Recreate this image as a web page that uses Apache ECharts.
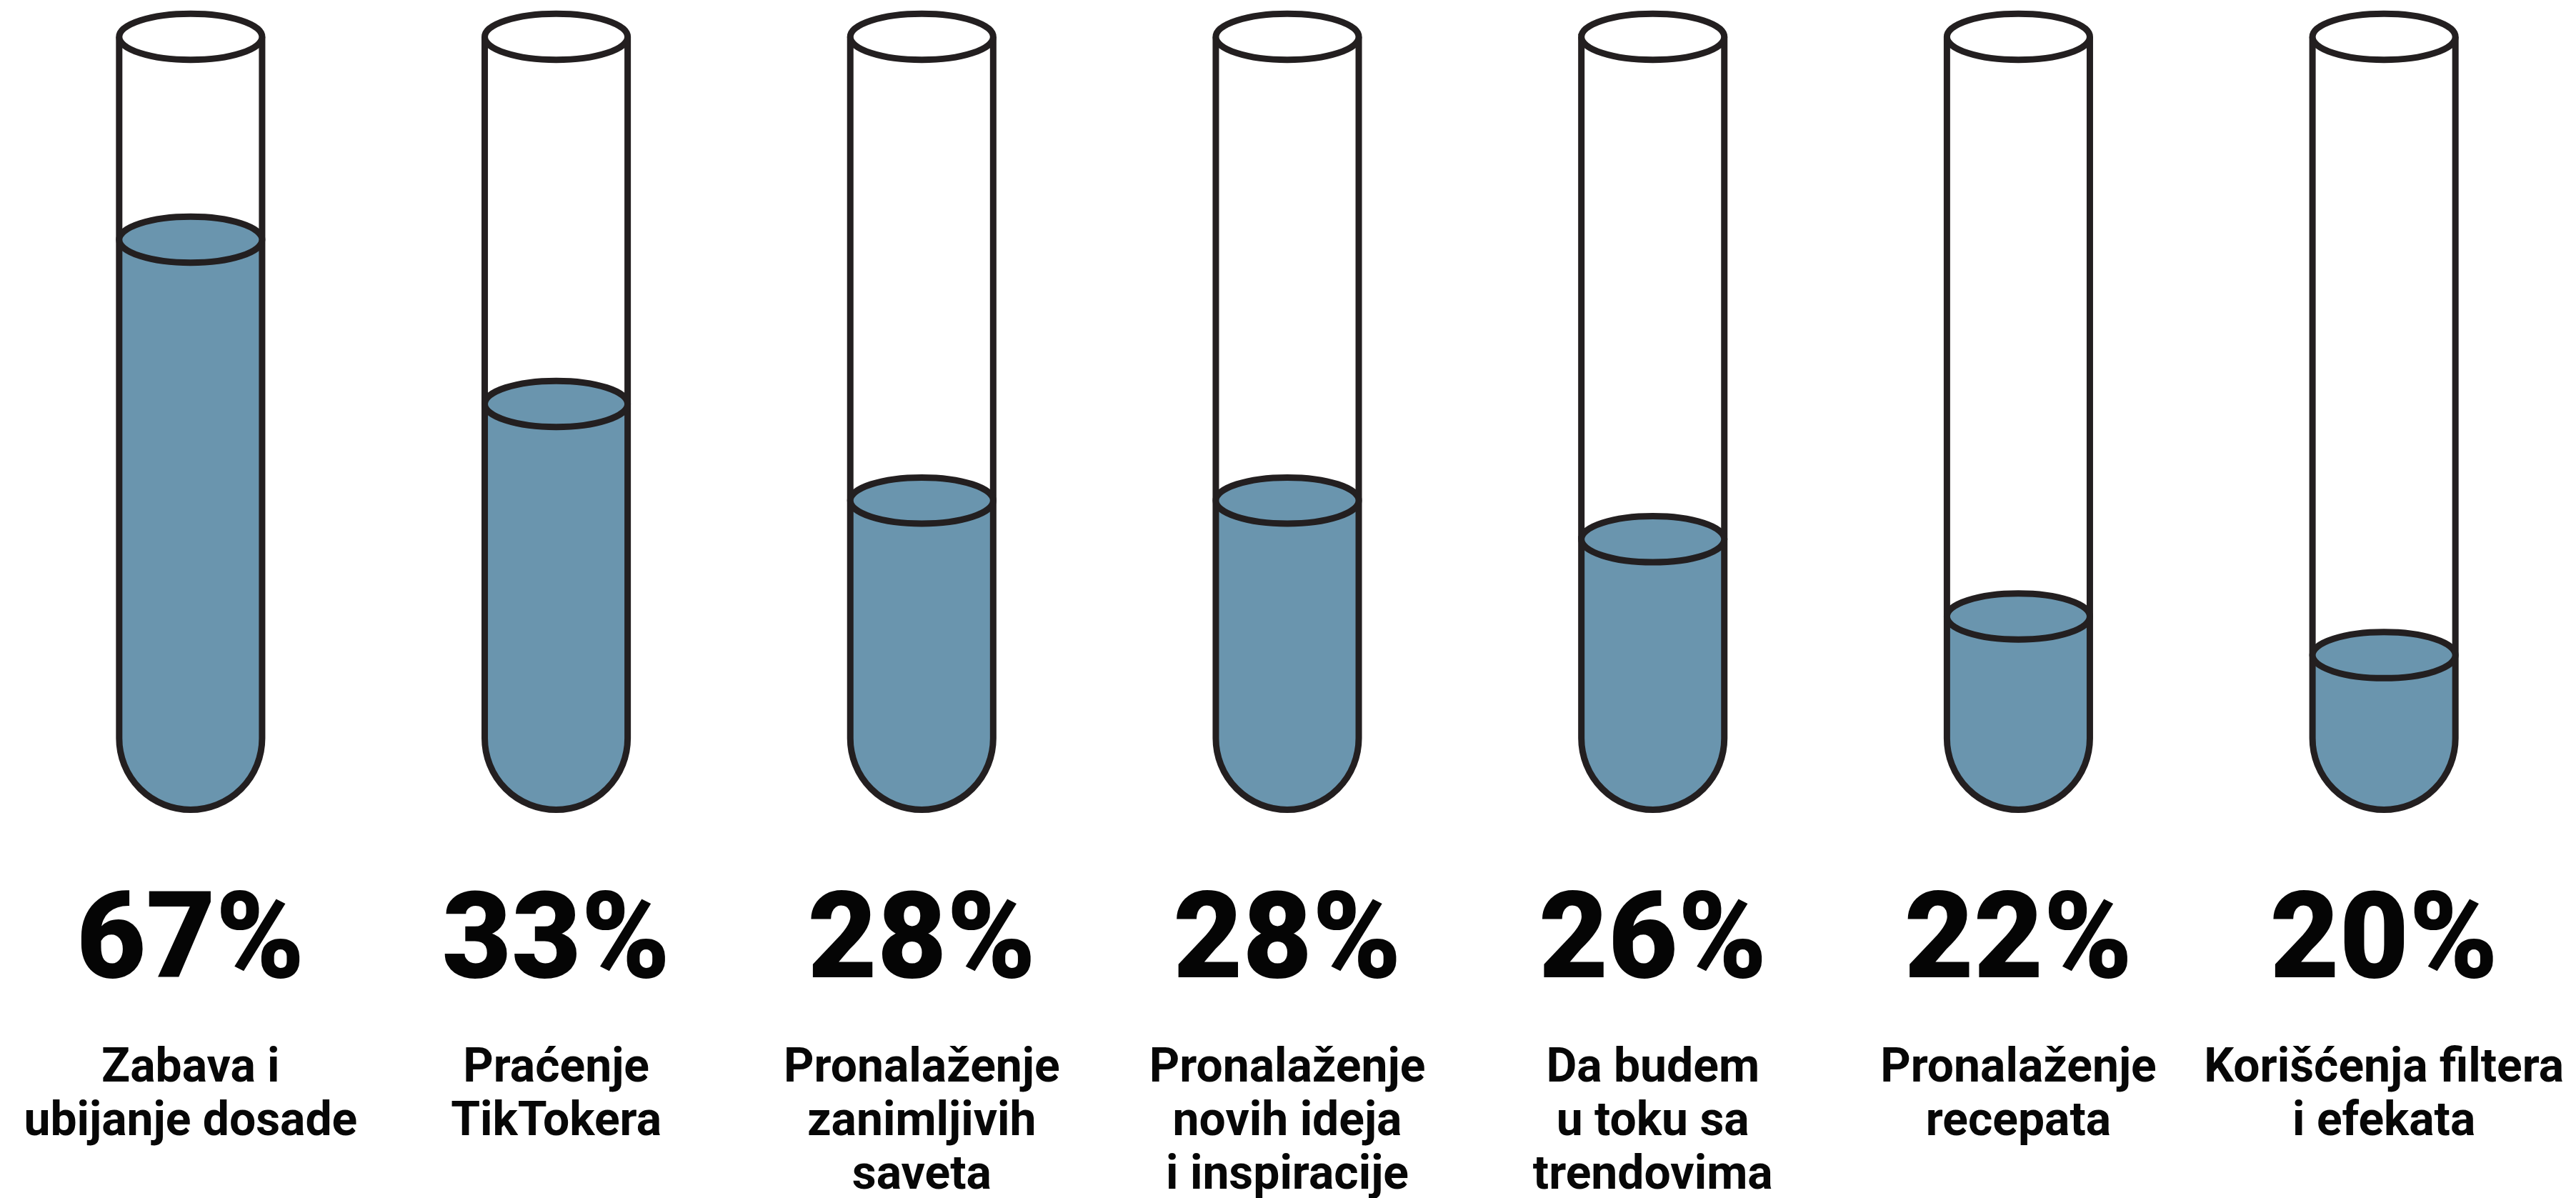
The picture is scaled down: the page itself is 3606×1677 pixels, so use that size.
<!DOCTYPE html>
<html>
<head>
<meta charset="utf-8">
<title>Zašto koriste TikTok</title>
<script src="https://cdn.jsdelivr.net/npm/echarts@6/dist/echarts.min.js"></script>
<style>
  html, body { margin: 0; padding: 0; background: #ffffff; }
  #chart { width: 3606px; height: 1677px; }
</style>
</head>
<body>
<div id="chart"></div>
<script>
// Reasons for using TikTok, share of respondents (%)
const categories = [
  'Zabava i\nubijanje dosade',
  'Praćenje\nTikTokera',
  'Pronalaženje\nzanimljivih\nsaveta',
  'Pronalaženje\nnovih ideja\ni inspiracije',
  'Da budem\nu toku sa\ntrendovima',
  'Pronalaženje\nrecepata',
  'Korišćenja filtera\ni efekata'
];
const shares = [67, 33, 28, 28, 26, 22, 20];

// Value range spanned by each tube; the long stretch between the
// largest value and the rest is folded away with an axis break.
const Y_MIN = 12;
const Y_MAX = 77.5;
const valueBreaks = [{ start: 38, end: 63.5, gap: 0 }];

const LIQUID = '#6A95AE';
const INK = '#231F20';
const LINE_W = 9;

function renderTube(params, api) {
  const i = api.value(0);
  const v = api.value(1);
  const top = api.coord([i, Y_MAX]);
  const bottom = api.coord([i, Y_MIN]);
  const surface = api.coord([i, v]);
  const band = api.size([1, 0])[0];

  const cx = top[0];
  const w = band * 0.1955;        // half width of the tube
  const ry = w * 0.3225;          // vertical radius of the rim ellipses
  const yTop = top[1];
  const yBot = bottom[1];
  const yArc = yBot - w;          // where the round bottom starts
  const ys = surface[1];

  const L = cx - w, R = cx + w;
  const ellipse = (cy) =>
    `M ${L} ${cy} A ${w} ${ry} 0 1 0 ${R} ${cy} A ${w} ${ry} 0 1 0 ${L} ${cy} Z`;

  return {
    type: 'group',
    children: [
      { // liquid column
        type: 'path',
        shape: { pathData: `M ${L} ${ys} L ${L} ${yArc} A ${w} ${w} 0 0 0 ${R} ${yArc} L ${R} ${ys} Z` },
        style: { fill: LIQUID, stroke: null }
      },
      { // glass walls and round bottom
        type: 'path',
        shape: { pathData: `M ${L} ${yTop} L ${L} ${yArc} A ${w} ${w} 0 0 0 ${R} ${yArc} L ${R} ${yTop}` },
        style: { fill: null, stroke: INK, lineWidth: LINE_W }
      },
      { // liquid surface
        type: 'path',
        shape: { pathData: ellipse(ys) },
        style: { fill: LIQUID, stroke: INK, lineWidth: LINE_W }
      },
      { // open rim
        type: 'path',
        shape: { pathData: ellipse(yTop) },
        style: { fill: '#ffffff', stroke: INK, lineWidth: LINE_W }
      },
      { // value label
        type: 'text',
        x: cx,
        y: yBot + 192,
        style: {
          text: v + '%',
          fill: '#050505',
          fontFamily: 'Roboto',
          fontWeight: 900,
          fontSize: 168,
          align: 'center',
          verticalAlign: 'middle'
        }
      }
    ]
  };
}

const chart = echarts.init(document.getElementById('chart'), null, { renderer: 'canvas' });
chart.setOption({
  animation: false,
  backgroundColor: '#ffffff',
  grid: {
    left: 11, right: 13, top: 51.5, bottom: 543.5,
    containLabel: false,
    outerBoundsMode: 'none'
  },
  xAxis: {
    type: 'category',
    data: categories,
    axisLine: { show: false },
    axisTick: { show: false },
    splitLine: { show: false },
    axisLabel: {
      interval: 0,
      margin: 326,
      color: '#070707',
      fontFamily: 'Roboto',
      fontWeight: 'bold',
      fontSize: 66,
      lineHeight: 75,
      align: 'center'
    }
  },
  yAxis: {
    type: 'value',
    min: Y_MIN,
    max: Y_MAX,
    show: false,
    splitLine: { show: false },
    breaks: valueBreaks,
    breakArea: { show: false }
  },
  series: [{
    type: 'custom',
    renderItem: renderTube,
    encode: { x: 0, y: 1 },
    data: shares.map((v, i) => [i, v]),
    silent: true,
    clip: false
  }]
});
</script>
</body>
</html>
